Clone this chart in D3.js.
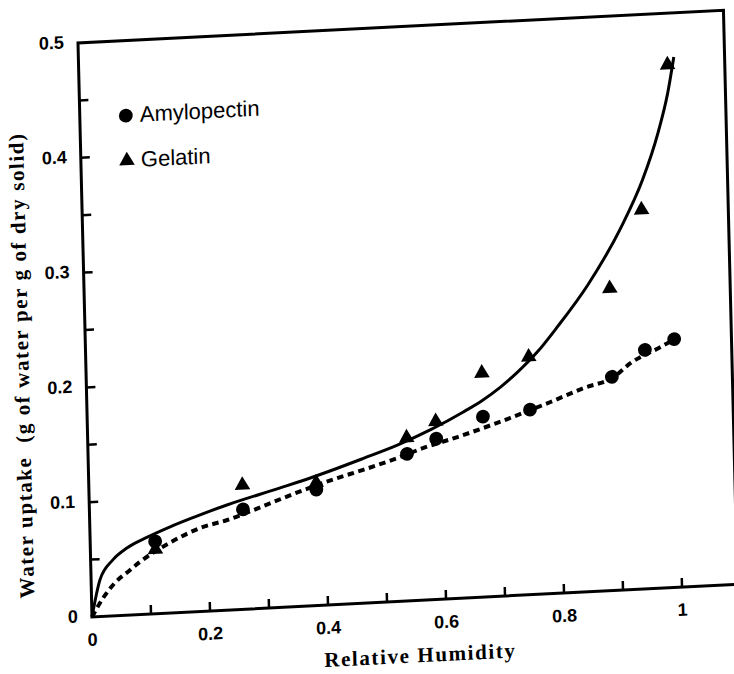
<!DOCTYPE html>
<html>
<head>
<meta charset="utf-8">
<script src="https://cdn.jsdelivr.net/npm/d3@7"></script>
<style>
    body { margin: 0; background: #fff; }
    svg  { display: block; }
</style>
</head>
<body>
<svg id="main-canvas" width="734" height="674"></svg>
<script>
// ---- data ----
var relHumidity   = [0.11, 0.26, 0.385, 0.54, 0.59, 0.67, 0.75, 0.89, 0.947, 0.997]
var amyloUptake   = [0.063, 0.087, 0.101, 0.128, 0.140, 0.157, 0.161, 0.186, 0.208, 0.216]
var gelatinUptake = [0.056, 0.108, 0.107, 0.142, 0.155, 0.195, 0.207, 0.263, 0.330, 0.455]

// fitted curves
var gelatinFitX = [0, 0.015, 0.038, 0.062, 0.097, 0.136, 0.175, 0.233, 0.324, 0.38, 0.466, 0.524, 0.581, 0.637, 0.669, 0.701, 0.730, 0.765, 0.80, 0.853, 0.911, 0.95, 0.978, 0.996, 1.008]
var gelatinFitY = [0, 0.032, 0.049, 0.0585, 0.067, 0.075, 0.082, 0.0915, 0.104, 0.112, 0.126, 0.136, 0.148, 0.162, 0.171, 0.182, 0.194, 0.211, 0.232, 0.267, 0.315, 0.356, 0.396, 0.430, 0.4615]
var amyloFitX   = [0, 0.0195, 0.040, 0.066, 0.084, 0.138, 0.187, 0.233, 0.3115, 0.363, 0.421, 0.465, 0.5235, 0.568, 0.626, 0.694, 0.785, 0.842, 0.893, 0.922, 0.974, 0.998]
var amyloFitY   = [0, 0.016, 0.0286, 0.039, 0.046, 0.062, 0.0727, 0.0784, 0.092, 0.101, 0.110, 0.116, 0.1248, 0.1324, 0.1404, 0.151, 0.1668, 0.1775, 0.1857, 0.197, 0.2098, 0.216]

var xTickLabels = ["0", "0.2", "0.4", "0.6", "0.8", "1"]
var yTickLabels = ["0", "0.1", "0.2", "0.3", "0.4", "0.5"]
var legendNames = ["Amylopectin", "Gelatin"]

// ---- scales ----
var xMaxFrame = 1.094
var x = d3.scaleLinear().domain([0, 1]).range([0, 590])
var y = d3.scaleLinear().domain([0, 0.5]).range([0, -574])

var svg = d3.select("#main-canvas")

svg.append("rect")
   .attr("width", 734)
   .attr("height", 674)
   .attr("fill", "#fff")

// the scan is slightly skewed, so the whole plot sits in a sheared frame
var g = svg.append("g")
           .attr("transform", "matrix(1,-0.0508,0.0244,1,92,617)")

// frame
g.append("path")
 .attr("d", "M" + x(xMaxFrame) + "," + y(0) +
            "H" + x(0) + "V" + y(0.5) + "H" + x(xMaxFrame) + "V" + y(0))
 .attr("fill", "none")
 .attr("stroke", "#000")
 .attr("stroke-width", 3)

// x ticks (inward) and labels
g.selectAll(".xtick")
 .data(d3.range(1, 11).map(function (i) { return i / 10 }))
 .enter()
 .append("line")
 .attr("class", "xtick")
 .attr("x1", function (d) { return x(d) })
 .attr("x2", function (d) { return x(d) })
 .attr("y1", 0)
 .attr("y2", -9)
 .attr("stroke", "#000")
 .attr("stroke-width", 2.5)

g.selectAll(".xlabel")
 .data(xTickLabels)
 .enter()
 .append("text")
 .attr("class", "xlabel")
 .attr("x", function (d) { return x(+d) })
 .attr("y", 24)
 .attr("text-anchor", "middle")
 .attr("dominant-baseline", "middle")
 .attr("font-family", "Liberation Sans, Arial, sans-serif")
 .attr("font-weight", "bold")
 .attr("font-size", 18)
 .text(function (d) { return d })

// y ticks (inward) and labels
g.selectAll(".ytick")
 .data(d3.range(1, 10).map(function (i) { return i * 0.05 }))
 .enter()
 .append("line")
 .attr("class", "ytick")
 .attr("x1", 0)
 .attr("x2", 9)
 .attr("y1", function (d) { return y(d) })
 .attr("y2", function (d) { return y(d) })
 .attr("stroke", "#000")
 .attr("stroke-width", 2.5)

g.selectAll(".ylabel")
 .data(yTickLabels)
 .enter()
 .append("text")
 .attr("class", "ylabel")
 .attr("x", -14)
 .attr("y", function (d) { return y(+d) })
 .attr("text-anchor", "end")
 .attr("dominant-baseline", "middle")
 .attr("font-family", "Liberation Sans, Arial, sans-serif")
 .attr("font-weight", "bold")
 .attr("font-size", 18)
 .text(function (d) { return d })

// axis titles
g.append("text")
 .attr("x", 327)
 .attr("y", 57)
 .attr("text-anchor", "middle")
 .attr("dominant-baseline", "middle")
 .attr("font-family", "Liberation Serif, Times New Roman, serif")
 .attr("font-weight", "bold")
 .attr("font-size", 21)
 .attr("letter-spacing", 1.6)
 .text("Relative Humidity")

g.append("text")
 .attr("transform", "translate(-62," + y(0.222) + ") rotate(-90)")
 .attr("text-anchor", "middle")
 .attr("dominant-baseline", "middle")
 .attr("font-family", "Liberation Serif, Times New Roman, serif")
 .attr("font-weight", "bold")
 .attr("font-size", 21)
 .attr("letter-spacing", 1.6)
 .attr("xml:space", "preserve")
 .text("Water uptake  (g of water per g of dry solid)")

// fitted curves
var fitLine = d3.line()
                .x(function (d) { return x(d[0]) })
                .y(function (d) { return y(d[1]) })
                .curve(d3.curveMonotoneX)

g.append("path")
 .datum(d3.zip(gelatinFitX, gelatinFitY))
 .attr("d", fitLine)
 .attr("fill", "none")
 .attr("stroke", "#000")
 .attr("stroke-width", 3)

g.append("path")
 .datum(d3.zip(amyloFitX, amyloFitY))
 .attr("d", fitLine)
 .attr("fill", "none")
 .attr("stroke", "#000")
 .attr("stroke-width", 4)
 .attr("stroke-dasharray", "6.5,4.5")

// markers
var circleSym   = d3.symbol().type(d3.symbolCircle).size(150)
var triangleSym = d3.symbol().type(d3.symbolTriangle).size(105)

g.selectAll(".amylo")
 .data(d3.zip(relHumidity, amyloUptake))
 .enter()
 .append("path")
 .attr("class", "amylo")
 .attr("d", circleSym)
 .attr("transform", function (d) { return "translate(" + x(d[0]) + "," + y(d[1]) + ")" })
 .attr("fill", "#000")

g.selectAll(".gelatin")
 .data(d3.zip(relHumidity, gelatinUptake))
 .enter()
 .append("path")
 .attr("class", "gelatin")
 .attr("d", triangleSym)
 .attr("transform", function (d) { return "translate(" + x(d[0]) + "," + y(d[1]) + ")" })
 .attr("fill", "#000")

// legend
var legendSyms = [circleSym, triangleSym]
var legend = g.selectAll(".legend")
              .data(legendNames)
              .enter()
              .append("g")
              .attr("class", "legend")
              .attr("transform", function (d, i) { return "translate(46," + (-499 + i * 45) + ")" })

legend.append("path")
      .attr("d", function (d, i) { return legendSyms[i]() })
      .attr("fill", "#000")

legend.append("text")
      .attr("x", 14)
      .attr("y", 1)
      .attr("dominant-baseline", "middle")
      .attr("font-family", "Liberation Sans, Arial, sans-serif")
      .attr("font-size", 22)
      .text(function (d) { return d })
</script>
</body>
</html>
